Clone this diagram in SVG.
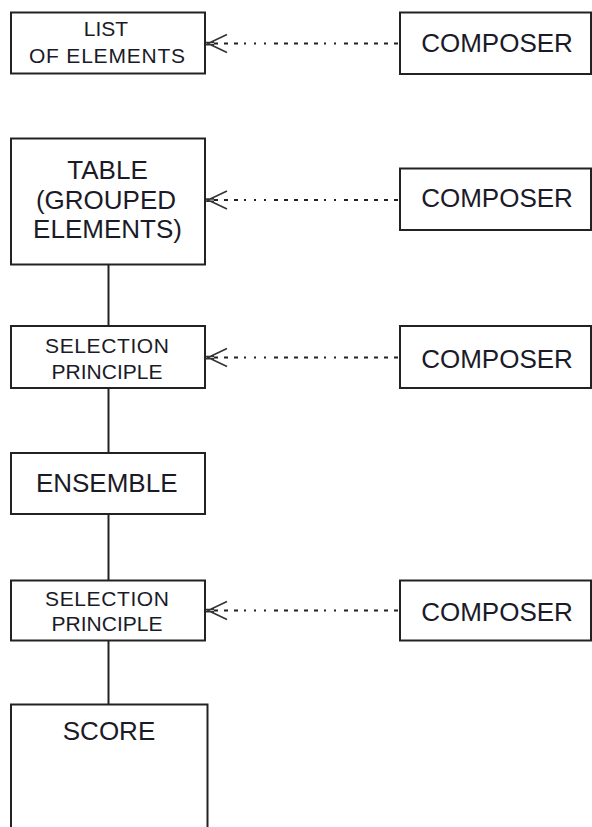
<svg xmlns="http://www.w3.org/2000/svg" width="592" height="827" viewBox="0 0 592 827">
<defs>
<style>
.box{fill:#fff;stroke:#222;stroke-width:2}
.t{font-family:"Liberation Sans",Arial,sans-serif;fill:#1a1a28;text-anchor:middle}
.big{font-size:26px}
.sm{font-size:21px}
.con{stroke:#222;stroke-width:2;fill:none}
.dot{stroke:#222;stroke-width:2;fill:none;stroke-dasharray:4 6 4 6 4 6 2 8 2 8 2 8 4 6 4 6 4 6 4 6 4 6 2 8 2 8 4 6 4 6 4 6 4 6 4 6}
.head{stroke:#333;stroke-width:1.6;fill:none}
</style>
<g id="arrowhead">
<path class="head" d="M21,-9 L2,0 L21,9 M0,-1 L8,-1 M0,1.2 L8,1.2"/>
</g>
</defs>
<rect width="592" height="827" fill="#fff"/>
<g id="connectors">
<line class="con" x1="108.5" y1="264.5" x2="108.5" y2="326"/>
<line class="con" x1="108.5" y1="388" x2="108.5" y2="453"/>
<line class="con" x1="108.5" y1="514" x2="108.5" y2="580.5"/>
<line class="con" x1="108.5" y1="640.5" x2="108.5" y2="704.5"/>
<line class="dot" x1="214" y1="43.5" x2="399" y2="43.5"/>
<use href="#arrowhead" x="206" y="43.5"/>
<line class="dot" x1="214" y1="200" x2="399" y2="200"/>
<use href="#arrowhead" x="206" y="200"/>
<line class="dot" x1="214" y1="357.5" x2="399" y2="357.5"/>
<use href="#arrowhead" x="206" y="357.5"/>
<line class="dot" x1="214" y1="610.5" x2="399" y2="610.5"/>
<use href="#arrowhead" x="206" y="610.5"/>
</g>
<g id="list">
<rect class="box" x="11" y="12.5" width="194" height="61"/>
<text class="t sm" x="106" y="36" font-size="20">LIST</text>
<text class="t sm" x="107" y="63.3" font-size="20" textLength="156" lengthAdjust="spacing">OF ELEMENTS</text>
</g>
<g id="composer1">
<rect class="box" x="400" y="12.5" width="191" height="61.5"/>
<text class="t big" x="497" y="51.7">COMPOSER</text>
</g>
<g id="table">
<rect class="box" x="11" y="138.5" width="194" height="126"/>
<text class="t big" x="107.5" y="179.3">TABLE</text>
<text class="t big" x="106" y="209.3">(GROUPED</text>
<text class="t big" x="107.5" y="238.3">ELEMENTS)</text>
</g>
<g id="composer2">
<rect class="box" x="400" y="168.5" width="191" height="61.5"/>
<text class="t big" x="497" y="207.3">COMPOSER</text>
</g>
<g id="selection1">
<rect class="box" x="11" y="326" width="194" height="62"/>
<text class="t sm" x="107" y="353.3" textLength="124" lengthAdjust="spacing">SELECTION</text>
<text class="t sm" x="107" y="379.3" textLength="111" lengthAdjust="spacing">PRINCIPLE</text>
</g>
<g id="composer3">
<rect class="box" x="400" y="326" width="191" height="62"/>
<text class="t big" x="497" y="368.3">COMPOSER</text>
</g>
<g id="ensemble">
<rect class="box" x="11" y="453" width="194" height="61"/>
<text class="t big" x="106.7" y="491.7">ENSEMBLE</text>
</g>
<g id="selection2">
<rect class="box" x="11" y="580.5" width="194" height="60"/>
<text class="t sm" x="107" y="605.5" textLength="124" lengthAdjust="spacing">SELECTION</text>
<text class="t sm" x="107" y="630.5" textLength="111" lengthAdjust="spacing">PRINCIPLE</text>
</g>
<g id="composer4">
<rect class="box" x="400" y="580.5" width="191" height="60"/>
<text class="t big" x="497" y="621">COMPOSER</text>
</g>
<g id="score">
<rect class="box" x="11" y="704.5" width="196.5" height="200"/>
<text class="t big" x="109" y="740">SCORE</text>
</g>
</svg>
